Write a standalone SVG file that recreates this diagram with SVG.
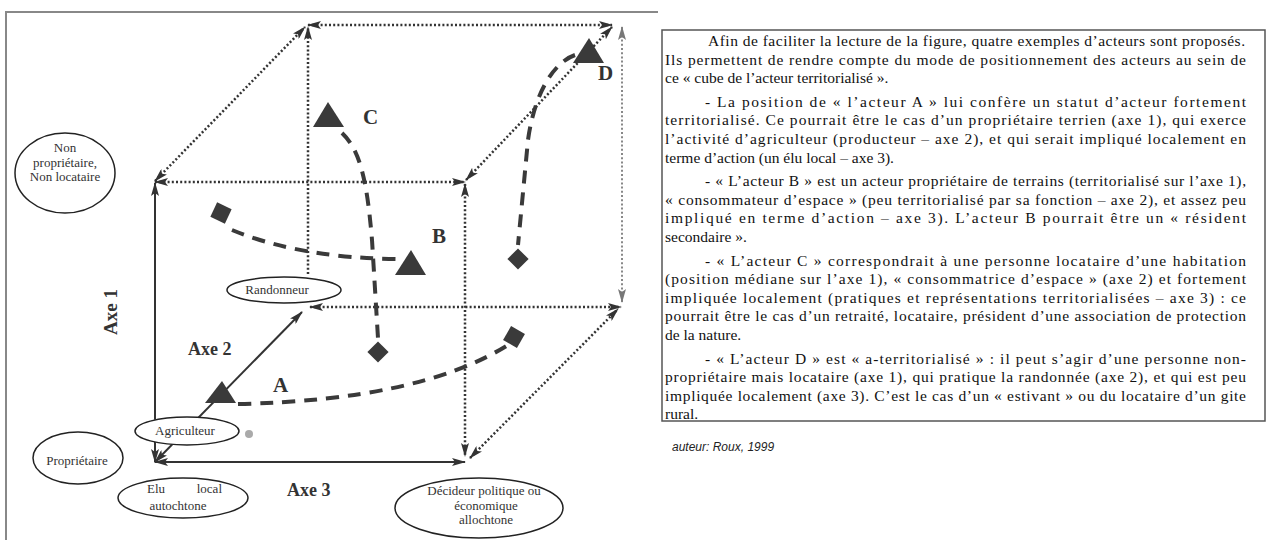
<svg xmlns="http://www.w3.org/2000/svg" width="1274" height="540" viewBox="0 0 1274 540">
<style>
.t{font-family:"Liberation Serif",serif;font-size:15.5px;fill:#111}
.lbl{font-family:"Liberation Serif",serif;font-size:13px;fill:#333}
.axe{font-family:"Liberation Serif",serif;font-size:18px;font-weight:bold;fill:#333}
.act{font-family:"Liberation Serif",serif;font-size:21px;font-weight:bold;fill:#333}
.dot{fill:none;stroke:#333;stroke-width:2.5;stroke-dasharray:2 2.2}
.dotg{fill:none;stroke:#888;stroke-width:2;stroke-dasharray:2 2.2}
.sol{fill:none;stroke:#333;stroke-width:2}
.dash{fill:none;stroke:#3a3a3a;stroke-width:4;stroke-dasharray:13 9}
.node{fill:#fff;stroke:#222;stroke-width:1.5}
.sym{fill:#3a3a3a}
.cap{font-family:"Liberation Sans",sans-serif;font-size:12px;font-style:italic;fill:#222}
</style>
<defs>
<marker id="ah" viewBox="0 0 14 8" refX="13" refY="4" markerWidth="14" markerHeight="8" markerUnits="userSpaceOnUse" orient="auto-start-reverse"><path d="M0,0 L14,4 L0,8 L3,4 z" fill="#333"/></marker>
<marker id="ahg" viewBox="0 0 14 8" refX="13" refY="4" markerWidth="14" markerHeight="8" markerUnits="userSpaceOnUse" orient="auto-start-reverse"><path d="M0,0 L14,4 L0,8 L3,4 z" fill="#777"/></marker>
</defs>
<rect width="1274" height="540" fill="#fff"/>
<path d="M6,540 V12 H658" fill="none" stroke="#888" stroke-width="2"/>

<g id="connectors">
  <path class="dot" d="M155,182 H465" marker-start="url(#ah)" marker-end="url(#ah)"/>
  <path class="dot" d="M308,25 H612" marker-start="url(#ah)" marker-end="url(#ah)"/>
  <path class="dot" d="M155,181 L305,27" marker-start="url(#ah)" marker-end="url(#ah)"/>
  <path class="dot" d="M466,180 L612,27" marker-start="url(#ah)" marker-end="url(#ah)"/>
  <path class="dot" d="M308,274 V27" marker-end="url(#ah)"/>
  <path class="dotg" d="M622,302 V27" marker-start="url(#ahg)" marker-end="url(#ahg)"/>
  <path class="dot" d="M310,307 H621" marker-start="url(#ah)" marker-end="url(#ah)"/>
  <path class="dot" d="M465,184 V456" marker-start="url(#ah)" marker-end="url(#ah)"/>
  <path class="dot" d="M470,458 L618,309" marker-start="url(#ah)" marker-end="url(#ah)"/>
  <path class="sol" d="M155,462 V183" marker-start="url(#ah)" marker-end="url(#ah)"/>
  <path class="sol" d="M155,462 H465" marker-start="url(#ah)" marker-end="url(#ah)"/>
  <path class="sol" d="M155,462 L302,312" marker-start="url(#ah)" marker-end="url(#ah)"/>
  <path class="dash" d="M238,404 Q420,400 508,345"/>
  <path class="dash" d="M232,230 Q300,258 397,259"/>
  <path class="dash" d="M342,133 C360,150 367,180 372,240 L378,338"/>
  <path class="dash" d="M575,55 C555,62 535,90 528,140 L518,245"/>
</g>

<g id="non-proprietaire">
  <ellipse class="node" cx="65" cy="173" rx="50" ry="40"/>
  <text class="lbl" x="65" y="152" text-anchor="middle">Non</text>
  <text class="lbl" x="65" y="167" text-anchor="middle">propriétaire,</text>
  <text class="lbl" x="65" y="181" text-anchor="middle">Non locataire</text>
</g>
<g id="proprietaire">
  <ellipse class="node" cx="78" cy="458" rx="45" ry="26"/>
  <text class="lbl" x="77" y="465" text-anchor="middle">Propriétaire</text>
</g>
<g id="agriculteur">
  <ellipse class="node" cx="187" cy="431" rx="52" ry="14"/>
  <text class="lbl" x="185" y="435" text-anchor="middle">Agriculteur</text>
</g>
<g id="elu">
  <ellipse class="node" cx="183" cy="498" rx="65" ry="20"/>
  <text class="lbl" x="147" y="493">Elu</text>
  <text class="lbl" x="222" y="493" text-anchor="end">local</text>
  <text class="lbl" x="178" y="510" text-anchor="middle">autochtone</text>
</g>
<g id="randonneur">
  <ellipse class="node" cx="284" cy="290" rx="57" ry="13"/>
  <text class="lbl" x="277" y="294" text-anchor="middle">Randonneur</text>
</g>
<g id="decideur">
  <ellipse class="node" cx="479" cy="508" rx="84" ry="30"/>
  <text class="lbl" x="484" y="495" text-anchor="middle">Décideur politique ou</text>
  <text class="lbl" x="486" y="510" text-anchor="middle">économique</text>
  <text class="lbl" x="486" y="524" text-anchor="middle">allochtone</text>
</g>

<g id="axes-labels">
  <text class="axe" transform="translate(117,312) rotate(-90)" text-anchor="middle" style="font-size:19px">Axe 1</text>
  <text class="axe" x="188" y="355">Axe 2</text>
  <text class="axe" x="287" y="496">Axe 3</text>
</g>

<g id="acteur-A">
  <polygon class="sym" points="205,403 236,403 222,381"/>
  <text class="act" x="273" y="392">A</text>
  <rect class="sym" x="-8" y="-8" width="16" height="16" transform="translate(514,337) rotate(30)"/>
</g>
<g id="acteur-B">
  <polygon class="sym" points="395,275 426,275 411,250"/>
  <text class="act" x="432" y="243">B</text>
  <rect class="sym" x="-8" y="-8" width="16" height="16" transform="translate(221,213) rotate(25)"/>
</g>
<g id="acteur-C">
  <polygon class="sym" points="313,127 344,127 328,102"/>
  <text class="act" x="363" y="124">C</text>
  <rect class="sym" x="-7.5" y="-7.5" width="15" height="15" transform="translate(378,352) rotate(45)"/>
</g>
<g id="acteur-D">
  <polygon class="sym" points="573,63 604,63 589,38"/>
  <text class="act" x="598" y="80" fill="#555">D</text>
  <rect class="sym" x="-7.5" y="-7.5" width="15" height="15" transform="translate(518,259) rotate(45)"/>
</g>
<circle cx="249" cy="434" r="4" fill="#aaa"/>

<g id="texte">
  <rect x="662" y="30" width="603" height="391" fill="#fff" stroke="#555" stroke-width="1.5"/>
  <text class="t" x="708" y="46" textLength="537" lengthAdjust="spacing">Afin de faciliter la lecture de la figure, quatre exemples d’acteurs sont proposés.</text>
  <text class="t" x="665" y="64.6" textLength="581" lengthAdjust="spacing">Ils permettent de rendre compte du mode de positionnement des acteurs au sein de</text>
  <text class="t" x="665" y="83.2">ce « cube de l’acteur territorialisé ».</text>
  <text class="t" x="705" y="106.8" textLength="541" lengthAdjust="spacing">- La position de « l’acteur A » lui confère un statut d’acteur fortement</text>
  <text class="t" x="665" y="125.4" textLength="581" lengthAdjust="spacing">territorialisé. Ce pourrait être le cas d’un propriétaire terrien (axe 1), qui exerce</text>
  <text class="t" x="665" y="144" textLength="581" lengthAdjust="spacing">l’activité d’agriculteur (producteur – axe 2), et qui serait impliqué localement en</text>
  <text class="t" x="665" y="162.6">terme d’action (un élu local – axe 3).</text>
  <text class="t" x="705" y="186.2" textLength="541" lengthAdjust="spacing">- « L’acteur B » est un acteur propriétaire de terrains (territorialisé sur l’axe 1),</text>
  <text class="t" x="665" y="204.8" textLength="581" lengthAdjust="spacing">« consommateur d’espace » (peu territorialisé par sa fonction – axe 2), et assez peu</text>
  <text class="t" x="665" y="223.4" textLength="581" lengthAdjust="spacing">impliqué en terme d’action – axe 3). L’acteur B pourrait être un « résident</text>
  <text class="t" x="665" y="242">secondaire ».</text>
  <text class="t" x="705" y="265.6" textLength="541" lengthAdjust="spacing">- « L’acteur C » correspondrait à une personne locataire d’une habitation</text>
  <text class="t" x="665" y="284.2" textLength="581" lengthAdjust="spacing">(position médiane sur l’axe 1), « consommatrice d’espace » (axe 2) et fortement</text>
  <text class="t" x="665" y="302.8" textLength="581" lengthAdjust="spacing">impliquée localement (pratiques et représentations territorialisées – axe 3) : ce</text>
  <text class="t" x="665" y="321.4" textLength="581" lengthAdjust="spacing">pourrait être le cas d’un retraité, locataire, président d’une association de protection</text>
  <text class="t" x="665" y="340">de la nature.</text>
  <text class="t" x="705" y="363.6" textLength="541" lengthAdjust="spacing">- « L’acteur D » est « a-territorialisé » : il peut s’agir d’une personne  non-</text>
  <text class="t" x="665" y="382.2" textLength="581" lengthAdjust="spacing">propriétaire mais locataire (axe 1), qui pratique la randonnée (axe 2), et qui est peu</text>
  <text class="t" x="665" y="400.8" textLength="581" lengthAdjust="spacing">impliquée localement (axe 3). C’est le cas d’un « estivant » ou du locataire d’un gite</text>
  <text class="t" x="665" y="419.4">rural.</text>
</g>
<text class="cap" x="672" y="451">auteur: Roux, 1999</text>
</svg>
